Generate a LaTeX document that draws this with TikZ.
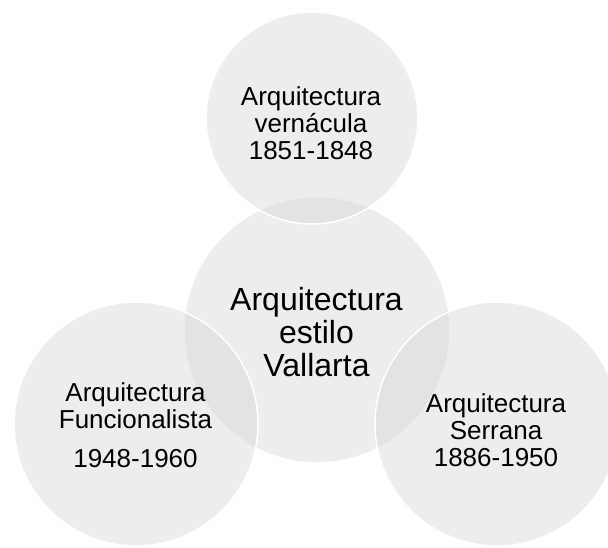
\documentclass[tikz,border=0pt]{standalone}
\usepackage{fontspec}
\setmainfont{Liberation Sans}
\definecolor{vennfill}{RGB}{215,215,215}
\begin{document}
\begin{tikzpicture}[x=1pt,y=-1pt,
  venn/.style={circle, draw=white, line width=1.5pt, fill=vennfill, fill opacity=0.45, draw opacity=1, inner sep=0pt, outer sep=0pt},
  lbl/.style={anchor=north, align=center, inner sep=0pt, text=black, text opacity=1, font=\fontsize{26}{27}\selectfont}]
\useasboundingbox (0,0) rectangle (608,548);
\node[venn, minimum size=266pt] (mid) at (317,330) {};
\node[venn, minimum size=212pt] (top) at (312,118) {};
\node[venn, minimum size=244pt] (left) at (136,424) {};
\node[venn, minimum size=244pt] (right) at (497,424) {};
\node[lbl] (toptext) at (311,86) {Arquitectura\\vernácula\\1851-1848};
\node[lbl, font=\fontsize{32}{33.3}\selectfont] (midtext) at (316.5,287) {Arquitectura\\estilo\\Vallarta};
\node[lbl] (lefttext) at (135.5,382) {Arquitectura\\Funcionalista\\[12pt]1948-1960};
\node[lbl] (righttext) at (496,393) {Arquitectura\\Serrana\\1886-1950};
\end{tikzpicture}
\end{document}
